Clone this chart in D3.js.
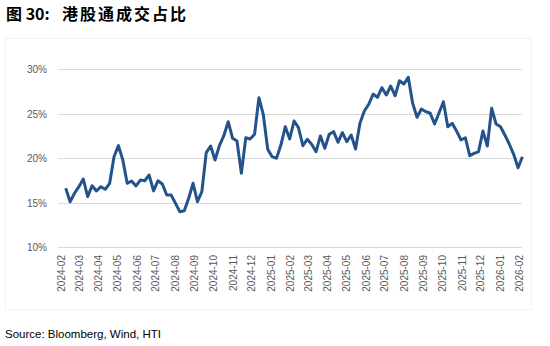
<!DOCTYPE html>
<html>
<head>
<meta charset="utf-8">
<script src="https://cdn.jsdelivr.net/npm/d3@7"></script>
<style>
  html, body { margin: 0; padding: 0; background: #fff; }
  svg { display: block; }
</style>
</head>
<body>
<svg id="chart" width="550" height="346"></svg>
<script>
// ---- data ----
const titleNum = "图 30:";
const titleText = "港股通成交占比";
const sourceText = "Source: Bloomberg, Wind, HTI";
const firstWeek = "2024-02-09"; // weekly observations (Fridays)
// weekly share of Southbound turnover, %
const shareValues = [
  16.63, 15.12, 16.07, 16.81, 17.67, 15.69, 16.92, 16.33, 16.81, 16.52,
  17.19, 20.18, 21.42, 19.81, 17.19, 17.45, 16.89, 17.56, 17.48, 18.12,
  16.33, 17.48, 17.11, 15.88, 15.88, 14.94, 14.00, 14.11, 15.51, 17.19,
  15.12, 16.25, 20.63, 21.38, 19.81, 21.42, 22.54, 24.11, 22.25, 21.94,
  18.31, 22.31, 22.17, 22.70, 26.81, 24.87, 21.01, 20.18, 20.00, 21.49,
  23.55, 22.17, 24.19, 23.44, 21.42, 22.13, 21.57, 20.74, 22.51, 21.12,
  22.70, 22.99, 21.80, 22.88, 21.87, 22.62, 21.04, 23.93, 25.31, 26.07,
  27.22, 26.85, 27.93, 27.11, 28.12, 27.03, 28.72, 28.35, 29.10, 26.18,
  24.61, 25.54, 25.24, 25.06, 23.85, 25.09, 26.36, 23.55, 23.93, 23.07,
  22.06, 22.31, 20.29, 20.56, 20.74, 23.07, 21.38, 25.62, 23.85, 23.55,
  22.62, 21.61, 20.45, 18.94, 20.18
];
const monthLabels = [
  "2024-02","2024-03","2024-04","2024-05","2024-06","2024-07","2024-08",
  "2024-09","2024-10","2024-11","2024-12","2025-01","2025-02","2025-03",
  "2025-04","2025-05","2025-06","2025-07","2025-08","2025-09","2025-10",
  "2025-11","2025-12","2026-01","2026-02"
];
const yTicks = [0.10, 0.15, 0.20, 0.25, 0.30];

// ---- build ----
const parseDay = d3.timeParse("%Y-%m-%d");
const parseMonth = d3.timeParse("%Y-%m");
const start = parseDay(firstWeek);
const series = shareValues.map((v, i) => ({ date: d3.timeDay.offset(start, i * 7), value: v / 100 }));
const monthDates = monthLabels.map(parseMonth);

const svg = d3.select("#chart");

const x = d3.scaleTime()
  .domain([monthDates[0], monthDates[monthDates.length - 1]])
  .range([60.7, 519.3]);
const y = d3.scaleLinear().domain([0.10, 0.30]).range([247.3, 69.3]);

// faint chart-area border
svg.append("rect")
  .attr("x", 5.5).attr("y", 38.5).attr("width", 526).attr("height", 271)
  .attr("fill", "none").attr("stroke", "#f2f2f2").attr("stroke-width", 1);

// title
const title = svg.append("text")
  .attr("x", 6).attr("y", 20)
  .attr("font-family", "'Noto Sans CJK SC', sans-serif")
  .attr("font-weight", "bold").attr("font-size", 16).attr("fill", "#000");
title.append("tspan").text(titleNum);
title.append("tspan").attr("x", 62).attr("letter-spacing", 2).text(titleText);

// gridlines
svg.append("g").selectAll("line").data(yTicks).join("line")
  .attr("x1", 58).attr("x2", 522)
  .attr("y1", d => Math.round(y(d)) + 0.5).attr("y2", d => Math.round(y(d)) + 0.5)
  .attr("stroke", "#d9d9d9").attr("stroke-width", 1);

// y axis labels
const yAxis = d3.axisLeft(y).tickValues(yTicks).tickFormat(d3.format(".0%")).tickSize(0).tickPadding(0);
const gy = svg.append("g").attr("transform", "translate(47,0)").call(yAxis);
gy.select(".domain").remove();
gy.selectAll("text")
  .attr("font-family", "'Liberation Sans', Arial, sans-serif")
  .attr("font-size", 10).attr("fill", "#595959");

// x axis labels (rotated)
const xAxis = d3.axisBottom(x).tickValues(monthDates).tickFormat((d, i) => monthLabels[i]).tickSize(0).tickPadding(0);
const gx = svg.append("g").attr("transform", "translate(0,255)").call(xAxis);
gx.select(".domain").remove();
gx.selectAll("text")
  .attr("font-family", "'Liberation Sans', Arial, sans-serif")
  .attr("font-size", 10).attr("fill", "#595959")
  .attr("transform", "rotate(-90)")
  .attr("x", 0).attr("y", 0).attr("dy", "0.35em")
  .attr("text-anchor", "end");

// line
const line = d3.line().x(d => x(d.date)).y(d => y(d.value));
svg.append("path").datum(series)
  .attr("d", line)
  .attr("fill", "none")
  .attr("stroke", "#24538b")
  .attr("stroke-width", 3)
  .attr("stroke-linejoin", "round")
  .attr("stroke-linecap", "butt");

// source
svg.append("text")
  .attr("x", 5).attr("y", 338)
  .attr("font-family", "'Liberation Sans', Arial, sans-serif")
  .attr("font-size", 11.5).attr("fill", "#000")
  .text(sourceText);
</script>
</body>
</html>
